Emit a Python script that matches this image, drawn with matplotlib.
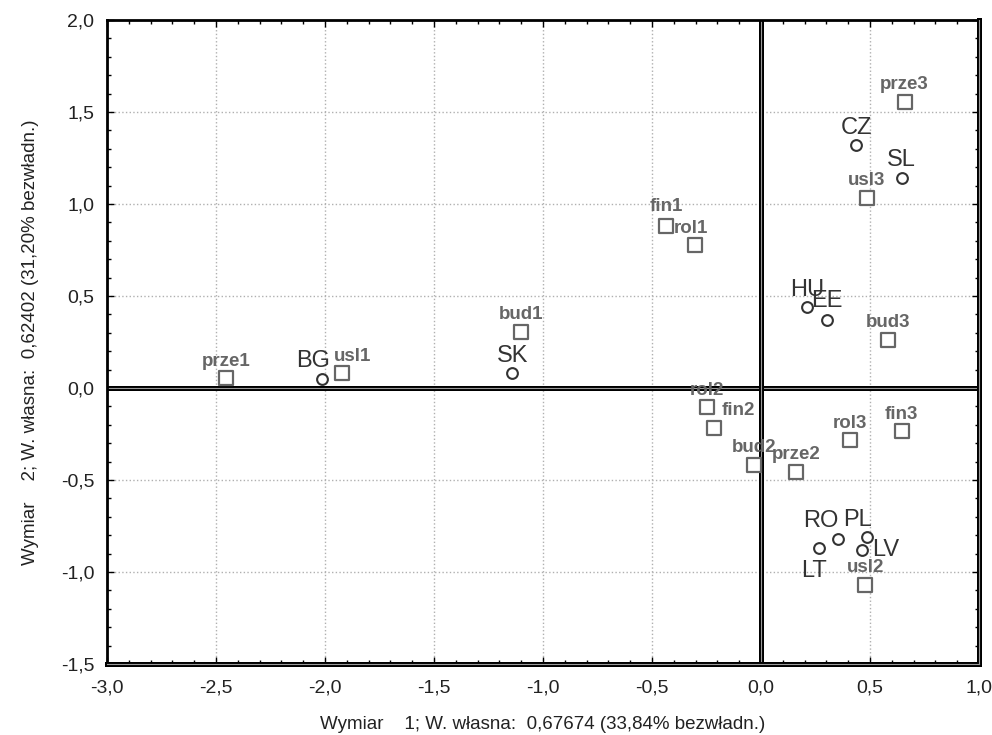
import matplotlib
matplotlib.use('Agg')
import matplotlib.pyplot as plt
from matplotlib.ticker import MultipleLocator, FuncFormatter

# country points (circles)
countries = ['BG', 'SK', 'CZ', 'SL', 'HU', 'EE', 'RO', 'PL', 'LT', 'LV']
country_x = [-2.014, -1.141, 0.437, 0.647, 0.213, 0.303, 0.353, 0.486, 0.266, 0.463]
country_y = [0.047, 0.082, 1.323, 1.139, 0.438, 0.372, -0.823, -0.812, -0.872, -0.883]

# sector points (squares)
sectors = ['prze1', 'usl1', 'bud1', 'fin1', 'rol1',
           'rol2', 'fin2', 'bud2', 'prze2', 'usl2',
           'prze3', 'usl3', 'bud3', 'rol3', 'fin3']
sector_x = [-2.454, -1.922, -1.101, -0.434, -0.303,
            -0.249, -0.214, -0.034, 0.162, 0.479,
            0.659, 0.485, 0.581, 0.408, 0.645]
sector_y = [0.054, 0.082, 0.307, 0.881, 0.778,
            -0.104, -0.218, -0.418, -0.456, -1.070,
            1.555, 1.034, 0.262, -0.283, -0.234]

xlabel = 'Wymiar    1; W. własna:  0,67674 (33,84% bezwładn.)'
ylabel = 'Wymiar    2; W. własna:  0,62402 (31,20% bezwładn.)'

# label offsets in pixels (default is centred above the marker)
default_offset = (0, 17)
label_offsets = {
    'RO': (-17, 18), 'PL': (-9, 17), 'LV': (24, 0), 'LT': (-5, -23),
    'BG': (-9, 18), 'SL': (-1, 18), 'EE': (0, 19),
    'fin2': (24, 18), 'usl1': (11, 16), 'rol1': (-4, 16), 'fin1': (0, 19),
}

plt.rcParams['font.family'] = ['Liberation Sans', 'DejaVu Sans']

fig = plt.figure(figsize=(9.92, 7.35), dpi=100)
ax = fig.add_axes([107 / 992, 1 - 664 / 735, 872 / 992, 644 / 735])

ax.set_xlim(-3.0, 1.0)
ax.set_ylim(-1.5, 2.0)

ax.grid(True, which='major', linestyle=':', color='#b0b0b0', linewidth=1.0)
ax.set_axisbelow(True)

# double lines through the origin
for draw in (ax.axhline, ax.axvline):
    draw(0, color='black', linewidth=3.6, zorder=2)
    draw(0, color='#9a9a9a', linewidth=0.8, zorder=2)

ax.scatter(country_x, country_y, s=60, marker='o', facecolors='white',
           edgecolors='#333333', linewidths=1.5, zorder=3)
ax.scatter(sector_x, sector_y, s=90, marker='s', facecolors='white',
           edgecolors='#666666', linewidths=1.6, zorder=3)

for name, x, y in zip(countries, country_x, country_y):
    ax.annotate(name, (x, y), xytext=label_offsets.get(name, default_offset),
                textcoords='offset pixels', ha='center', va='center',
                fontsize=17, color='#333333', zorder=4, annotation_clip=False)

for name, x, y in zip(sectors, sector_x, sector_y):
    ax.annotate(name, (x, y), xytext=label_offsets.get(name, default_offset),
                textcoords='offset pixels', ha='center', va='center',
                fontsize=13.5, fontweight='bold', color='#666666', zorder=4,
                annotation_clip=False)

ax.xaxis.set_major_locator(MultipleLocator(0.5))
ax.yaxis.set_major_locator(MultipleLocator(0.5))
ax.xaxis.set_minor_locator(MultipleLocator(0.1))
ax.yaxis.set_minor_locator(MultipleLocator(0.1))
fmt = FuncFormatter(lambda v, p: f'{v:.1f}'.replace('.', ',').replace('-0,0', '0,0'))
ax.xaxis.set_major_formatter(fmt)
ax.yaxis.set_major_formatter(fmt)
ax.tick_params(which='both', direction='in', top=True, right=True,
               labelsize=14, labelcolor='#222222', width=1.0)
ax.tick_params(which='major', length=5)
ax.tick_params(axis='x', which='major', pad=11)
ax.tick_params(axis='y', which='major', pad=9)
ax.tick_params(which='minor', length=3)

for side, sp in ax.spines.items():
    sp.set_color('black')
    sp.set_linewidth(2.0 if side in ('top', 'left') else 3.6)
# light inner stripe on the bottom and right frame lines
ax.plot([0, 1], [0, 0], transform=ax.transAxes, color='#9a9a9a',
        linewidth=0.8, clip_on=False, zorder=5)
ax.plot([1, 1], [0, 1], transform=ax.transAxes, color='#9a9a9a',
        linewidth=0.8, clip_on=False, zorder=5)

ax.set_xlabel(xlabel, fontsize=13.5, color='#222222', labelpad=14)
ax.set_ylabel(ylabel, fontsize=13.5, color='#222222', labelpad=16)

fig.savefig('out.png', dpi=100, facecolor='white')
